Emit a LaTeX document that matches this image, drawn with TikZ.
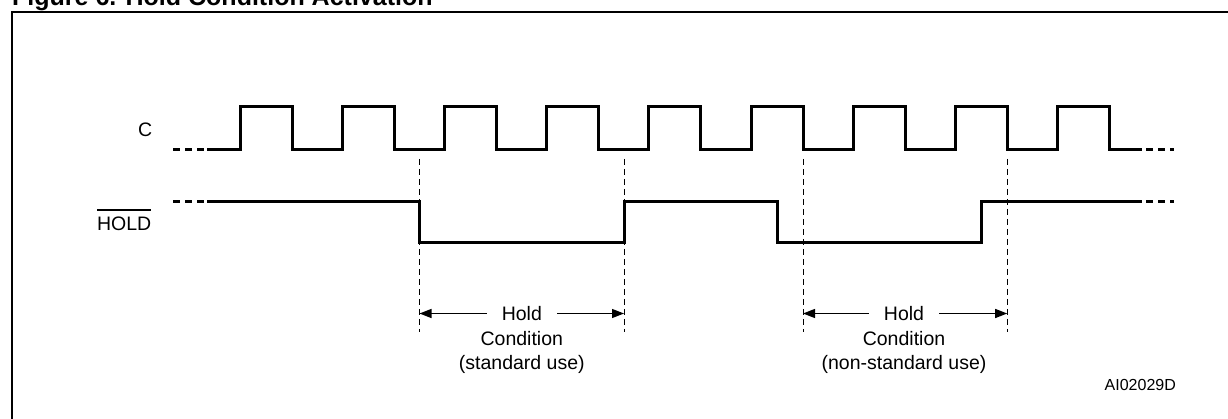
\documentclass[tikz,border=0pt]{standalone}
\usepackage{fontspec}
\setmainfont{Liberation Sans}
\usetikzlibrary{arrows.meta}
\newcommand{\barred}[1]{\setbox0=\hbox{#1}\rlap{\rule[20.4pt]{\wd0}{1.2pt}}\box0}
\begin{document}
\begin{tikzpicture}[x=1pt,y=-1pt,
  sig/.style={line width=3pt,line join=miter},
  sigdash/.style={line width=3pt,dash pattern=on 7pt off 5pt},
  guide/.style={line width=1pt,dash pattern=on 6pt off 4pt},
  dimarrow/.style={line width=1.3pt,-{Triangle[length=12pt,width=9pt]}},
  lbl/.style={font=\fontsize{19.5}{24}\selectfont,inner sep=0pt,anchor=base},
  holdlbl/.style={lbl,inner xsep=15pt},
  ]
\useasboundingbox (0,0) rectangle (1228,419);
\clip (0,0) rectangle (1228,419);
% title (cut at top) and frame
\node[anchor=base west,inner sep=0pt,font=\fontsize{25}{30}\selectfont\bfseries] (title) at (12,6) {Figure 6. Hold Condition Activation};
\draw[line width=2.2pt] (12.2,440) -- (12.2,12.3) -- (1240,12.3);
% signal labels
\node[lbl,anchor=base east] (clab) at (152.5,137) {C};
\node[lbl,anchor=base east] (hlab) at (151.5,231) {\barred{HOLD}};
% clock
\draw[sigdash] (173,150) -- (204,150);
\draw[sig] (207,150) \foreach \k in {0,...,8} { -- ({240.5+102.1*\k},150) -- ({240.5+102.1*\k},107) -- ({292.5+102.1*\k},107) -- ({292.5+102.1*\k},150) } -- (1142,150);
\draw[sigdash] (1146,150) -- (1174,150);
% HOLD
\draw[sigdash] (173,202) -- (204,202);
\draw[sig] (207,202) -- (419.5,202) -- (419.5,243) -- (624,243) -- (624,202) -- (777,202) -- (777,243) -- (981,243) -- (981,202) -- (1142,202);
\draw[sigdash] (1146,202) -- (1174,202);
% guide lines
\foreach \x/\n in {419.5/g1,624/g2,803/g3,1007.2/g4} {
  \coordinate (\n top) at (\x,159);
  \coordinate (\n bot) at (\x,332);
  \coordinate (\n) at (\x,313.5);
  \draw[guide] (\n top) -- (\n bot);
}
% hold condition 1
\node[holdlbl] (hold1) at (521.8,321) {Hold};
\node[lbl] (cond1) at (521.8,345) {Condition};
\node[lbl] (use1) at (521.8,369) {(standard use)};
\draw[dimarrow] (hold1.west |- g1) -- (g1);
\draw[dimarrow] (hold1.east |- g2) -- (g2);
% hold condition 2
\node[holdlbl] (hold2) at (904,321) {Hold};
\node[lbl] (cond2) at (904,345) {Condition};
\node[lbl] (use2) at (904,369) {(non-standard use)};
\draw[dimarrow] (hold2.west |- g3) -- (g3);
\draw[dimarrow] (hold2.east |- g4) -- (g4);
% figure code
\node[lbl,anchor=base west,font=\fontsize{16}{19}\selectfont] (code) at (1104.5,390) {AI02029D};
\end{tikzpicture}
\end{document}
